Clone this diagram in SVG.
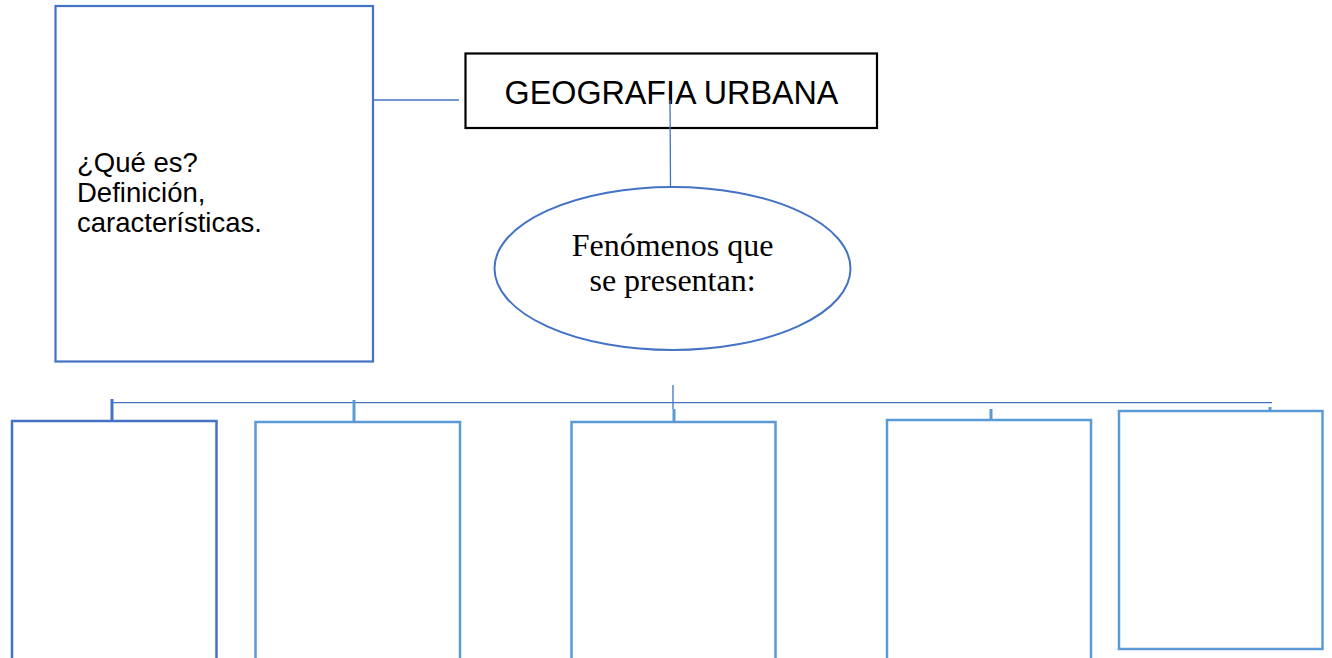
<svg xmlns="http://www.w3.org/2000/svg" width="1332" height="658" viewBox="0 0 1332 658">
<style>
.bg{fill:#ffffff}
.conn{stroke:#4472C4;stroke-width:1.3;fill:none}
.stub{stroke:#5B9BD5;stroke-width:3;fill:none}
.box{fill:#ffffff;stroke:#5B9BD5;stroke-width:2.5}
.dark{stroke:#4472C4}
.sans{font-family:"Liberation Sans",Arial,sans-serif;fill:#000000}
.serif{font-family:"Liberation Serif","Times New Roman",serif;fill:#000000}
</style>
<rect class="bg" x="0" y="0" width="1332" height="658"/>
<g id="def-box">
<rect x="55.5" y="6" width="317.5" height="355.5" fill="#ffffff" stroke="#4472C4" stroke-width="2.2"/>
<text class="sans" font-size="27.5"><tspan x="77" y="172">¿Qué es?</tspan><tspan x="77" y="202">Definición,</tspan><tspan x="77" y="232">características.</tspan></text>
</g>
<g id="title">
<rect x="465.5" y="53.5" width="411.5" height="74.5" fill="#ffffff" stroke="#000000" stroke-width="2.2"/>
<text class="sans" x="671.5" y="103.5" font-size="32.3" text-anchor="middle">GEOGRAFIA URBANA</text>
</g>
<g id="fenomenos">
<ellipse cx="672.5" cy="268.5" rx="178" ry="81.5" fill="#ffffff" stroke="#4472C4" stroke-width="2"/>
<text class="serif" font-size="32" text-anchor="middle"><tspan x="672.5" y="256">Fenómenos que</tspan><tspan x="672.5" y="291">se presentan:</tspan></text>
</g>
<g id="box1"><rect class="box dark" x="12" y="421" width="204.5" height="240"/></g>
<g id="box2"><rect class="box" x="255.5" y="422" width="204.5" height="240"/></g>
<g id="box3"><rect class="box" x="571.5" y="422" width="204" height="240"/></g>
<g id="box4"><rect class="box" x="887" y="420" width="204" height="240"/></g>
<g id="box5"><rect class="box" x="1119" y="411" width="203.5" height="238"/></g>
<g id="connectors">
<line class="conn" x1="373" y1="100" x2="459" y2="100"/>
<line class="conn" x1="670" y1="100" x2="670.5" y2="187"/>
<line class="conn" x1="673" y1="385" x2="673" y2="409"/>
<line class="conn" x1="112" y1="402.7" x2="1272" y2="402.7"/>
<line class="stub" x1="112" y1="399" x2="112" y2="420" style="stroke:#4472C4"/>
<line class="stub" x1="354" y1="400" x2="354" y2="421"/>
<line class="stub" x1="674" y1="409" x2="674" y2="421"/>
<line class="stub" x1="991" y1="409" x2="991" y2="419"/>
<line class="stub" x1="1270" y1="407" x2="1270" y2="410"/>
</g>
</svg>
